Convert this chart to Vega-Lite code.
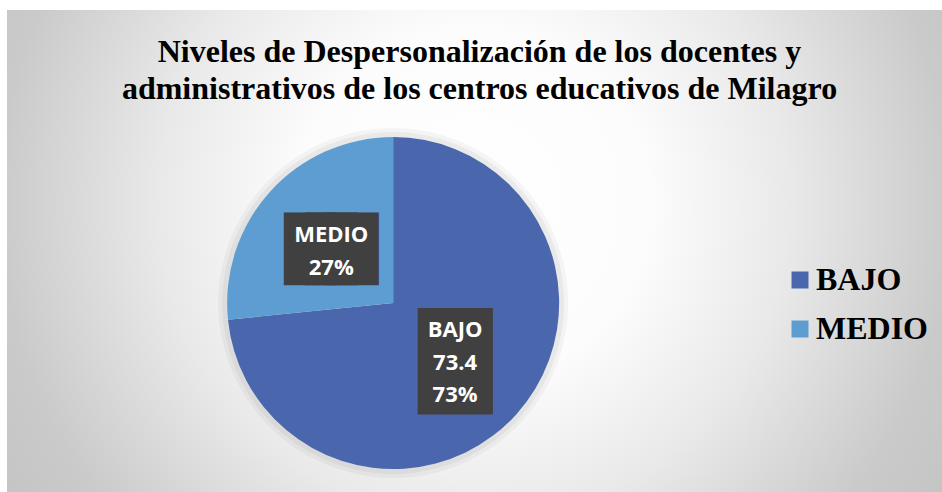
{
  "$schema": "https://vega.github.io/schema/vega-lite/v6.json",
  "width": 942,
  "height": 492,
  "autosize": {"type": "fit", "contains": "padding"},
  "padding": {"left": 7, "top": 10, "right": 0, "bottom": 0},
  "background": "#ffffff",
  "config": {"view": {"stroke": null}},
  "title": {
    "text": ["Niveles de Despersonalización de los docentes y", "administrativos de los centros educativos de Milagro"],
    "font": "Liberation Serif",
    "fontSize": 32,
    "fontWeight": "bold",
    "color": "#000000",
    "lineHeight": 37,
    "anchor": "middle",
    "baseline": "top",
    "offset": -96,
    "dx": 5
  },
  "data": {
    "values": [
      {"nivel": "BAJO", "valor": 73.4, "etiqueta": "BAJO\n73.4\n73%"},
      {"nivel": "MEDIO", "valor": 26.6, "etiqueta": "MEDIO\n27%"}
    ]
  },
  "layer": [
    {
      "data": {"values": [{}]},
      "mark": {
        "type": "rect",
        "color": {
          "gradient": "radial",
          "x1": 0.5, "y1": 0.45, "r1": 0,
          "x2": 0.5, "y2": 0.45, "r2": 0.75,
          "stops": [
            {"offset": 0, "color": "#ffffff"},
            {"offset": 0.25, "color": "#fcfcfc"},
            {"offset": 0.45, "color": "#e9e9e9"},
            {"offset": 0.68, "color": "#cacaca"},
            {"offset": 1, "color": "#bababa"}
          ]
        }
      },
      "encoding": {}
    },
    {
      "mark": {"type": "arc", "outerRadius": 175, "color": "#000000", "opacity": 0.035, "x": {"expr": "width*0.413"}, "y": {"expr": "height*0.608"}},
      "encoding": {
        "theta": {"field": "valor", "type": "quantitative", "stack": true},
        "order": {"field": "nivel", "type": "ordinal", "sort": "ascending"},
        "detail": {"field": "nivel", "type": "nominal"}
      }
    },
    {
      "mark": {"type": "arc", "outerRadius": 171, "color": "#000000", "opacity": 0.045, "x": {"expr": "width*0.413"}, "y": {"expr": "height*0.608"}},
      "encoding": {
        "theta": {"field": "valor", "type": "quantitative", "stack": true},
        "order": {"field": "nivel", "type": "ordinal", "sort": "ascending"},
        "detail": {"field": "nivel", "type": "nominal"}
      }
    },
    {
      "mark": {"type": "arc", "outerRadius": 166, "x": {"expr": "width*0.413"}, "y": {"expr": "height*0.608"}},
      "encoding": {
        "theta": {"field": "valor", "type": "quantitative", "stack": true},
        "order": {"field": "nivel", "type": "ordinal", "sort": "ascending"},
        "color": {
          "field": "nivel",
          "type": "nominal",
          "scale": {"domain": ["BAJO", "MEDIO"], "range": ["#4A66AC", "#5E9DD2"]},
          "legend": {
            "title": null,
            "orient": "none",
            "legendX": 777,
            "legendY": 254,
            "padding": 0,
            "symbolType": "square",
            "symbolSize": 289,
            "symbolStrokeWidth": 0,
            "labelFont": "Liberation Serif",
            "labelFontSize": 32,
            "labelFontWeight": "bold",
            "labelColor": "#000000",
            "labelOffset": 0,
            "rowPadding": 17
          }
        }
      }
    },
    {
      "mark": {
        "type": "text",
        "font": "DejaVu Sans Mono",
        "fill": "#404040",
        "stroke": "#404040",
        "strokeJoin": "miter",
        "strokeMiterLimit": 20,
        "align": "center",
        "baseline": "middle",
        "fontSize": {"expr": "datum.nivel == 'BAJO' ? 55 : 35"},
        "strokeWidth": {"expr": "datum.nivel == 'BAJO' ? 41 : 31"},
        "dy": {"expr": "datum.nivel == 'BAJO' ? 4 : 2.5"},
        "x": {"expr": "width*0.413"},
        "y": {"expr": "height*0.608"}
      },
      "encoding": {
        "theta": {"field": "valor", "type": "quantitative", "stack": true},
        "radius": {"value": 83.5},
        "order": {"field": "nivel", "type": "ordinal", "sort": "ascending"},
        "detail": {"field": "nivel", "type": "nominal"},
        "text": {"condition": {"test": "datum.nivel == 'MEDIO'", "value": "███"}, "value": "█"}
      }
    },
    {
      "mark": {
        "type": "text",
        "font": "Open Sans",
        "fontSize": 22,
        "fontWeight": "bold",
        "fill": "#ffffff",
        "align": "center",
        "baseline": "middle",
        "lineBreak": "\n",
        "lineHeight": 32.5,
        "dy": {"expr": "datum.nivel == 'BAJO' ? -29 : -12"},
        "x": {"expr": "width*0.413"},
        "y": {"expr": "height*0.608"}
      },
      "encoding": {
        "theta": {"field": "valor", "type": "quantitative", "stack": true},
        "radius": {"value": 83.5},
        "order": {"field": "nivel", "type": "ordinal", "sort": "ascending"},
        "detail": {"field": "nivel", "type": "nominal"},
        "text": {"field": "etiqueta", "type": "nominal"}
      }
    }
  ]
}
